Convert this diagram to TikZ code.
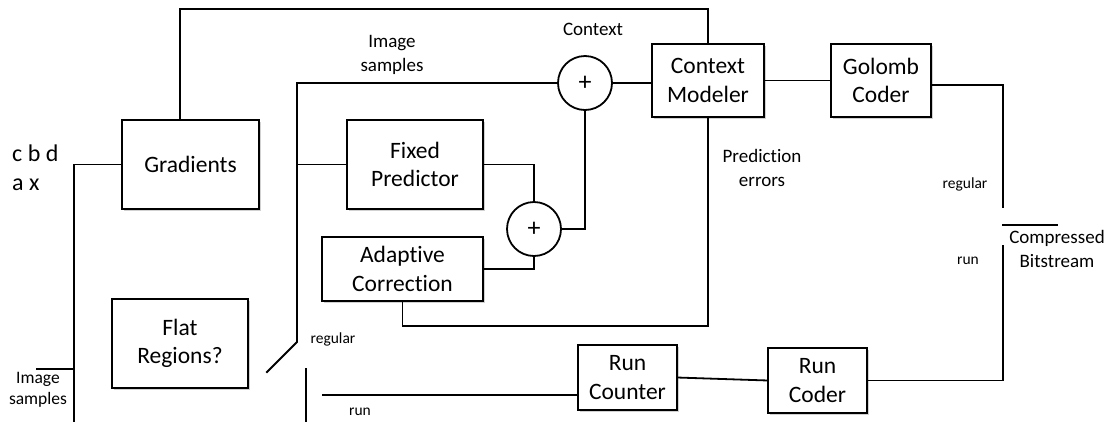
\documentclass[tikz,border=0pt]{standalone}
\usepackage{fontspec}
\setmainfont[Ligatures={NoCommon}]{Carlito}
\usetikzlibrary{shadows}
\tikzset{
  wire/.style={line width=1.8pt, line cap=rect},
  block/.style={draw, line width=1.8pt, fill=white, inner sep=0pt, outer sep=0pt,
    align=center, font=\fontsize{23.5}{28.7}\selectfont,
    drop shadow={shadow xshift=1.5pt, shadow yshift=-1.5pt, opacity=0.18, fill=black}},
  adder/.style={draw, circle, line width=1.8pt, fill=white, inner sep=0pt, outer sep=0pt,
    minimum size=54pt, font=\fontsize{26}{28}\selectfont},
  lbl/.style={align=center, inner sep=0pt, font=\fontsize{19}{24}\selectfont},
  slbl/.style={align=center, inner sep=0pt, font=\fontsize{15.5}{19}\selectfont},
}
\begin{document}
\begin{tikzpicture}[x=1pt, y=-1pt]
\useasboundingbox (0,0) rectangle (1112,421);

% processing blocks
\node[block, minimum width=137pt, minimum height=89pt] (grad)   at (190.5,164.5) {Gradients};
\node[block, minimum width=136pt, minimum height=89pt] (flat)   at (180,343.5)   {Flat\\Regions?};
\node[block, minimum width=136pt, minimum height=89pt] (fixed)  at (415,164.5)   {Fixed\\Predictor};
\node[block, minimum width=161pt, minimum height=64pt] (adapt)  at (402.5,269)   {Adaptive\\Correction};
\node[block, minimum width=112pt, minimum height=73pt] (cm)     at (708,80.5)    {Context\\Modeler};
\node[block, minimum width=100pt, minimum height=73pt] (golomb) at (881,80.5)    {Golomb\\Coder};
\node[block, minimum width=99pt,  minimum height=65pt] (runcnt) at (627.5,377.5) {Run\\Counter};
\node[block, minimum width=99pt,  minimum height=65pt] (runcod) at (817.5,380.5) {Run\\Coder};

% adders
\node[adder] (sum1) at (585,83)  {+};
\node[adder] (sum2) at (534,229) {+};

% free ends and bends
\coordinate (gtop)   at (180,9);
\coordinate (inbus)  at (74,421);
\coordinate (imgin)  at (37,369);
\coordinate (armA)   at (267,372);
\coordinate (armB)   at (297,342);
\coordinate (tapY)   at (297,83);
\coordinate (runpin) at (306,369);
\coordinate (runpinB) at (306,421);
\coordinate (runin)  at (323,395);
\coordinate (perr)   at (708,326);
\coordinate (swA)    at (1003,207);
\coordinate (swB)    at (1003,246);
\coordinate (barL)   at (1003,225);
\coordinate (barR)   at (1057,225);

% context path from the gradients to the context modeler
\draw[wire] (grad.north -| gtop) -- (gtop) -| (cm.north);
% input samples bus
\draw[wire] (grad.west) -| (inbus);
\draw[wire] (imgin) -- (imgin -| inbus);
% regular/run switch
\draw[wire] (armA) -- (armB) -- (tapY) -- (sum1.west);
\draw[wire] (fixed.west -| armB) -- (fixed.west);
\draw[wire] (runpin) -- (runpinB);
\draw[wire] (runin) -- (runin -| runcnt.west);
% prediction and correction
\draw[wire] (fixed.east) -| (sum2.north);
\draw[wire] (adapt.east) -| (sum2.south);
\draw[wire] (sum2.east) -| (sum1.south);
\draw[wire] (adapt.south) |- (perr) -- (cm.south);
\draw[wire] (sum1.east) -- (sum1.east -| cm.west);
\draw[wire] (cm.east) -- (golomb.west);
% output switch
\draw[wire] ([yshift=-4.5pt]golomb.east) -| (swA);
\draw[wire] (barL) -- (barR);
\draw[wire] (runcod.east) -| (swB);
\draw[wire] (runcnt.east) -- (runcod.west);

% labels
\node[align=left, inner sep=0pt, anchor=west, font=\fontsize{24}{29}\selectfont] (ctxpix) at (12,168) {c b d\\a x};
\node[lbl, font=\fontsize{17.5}{21}\selectfont] (lblin) at (38,390) {Image\\samples};
\node[slbl] (lblreg1) at (333,339) {regular};
\node[slbl] (lblrun1) at (360,412) {run};
\node[lbl] (lblimg) at (392,55) {Image\\samples};
\node[lbl] (lblctx) at (593,29) {Context};
\node[lbl] (lblerr) at (762,168) {Prediction\\errors};
\node[slbl] (lblreg2) at (965,184) {regular};
\node[slbl] (lblrun2) at (968,261) {run};
\node[lbl] (lblout) at (1057,249) {Compressed\\Bitstream};
\end{tikzpicture}
\end{document}
